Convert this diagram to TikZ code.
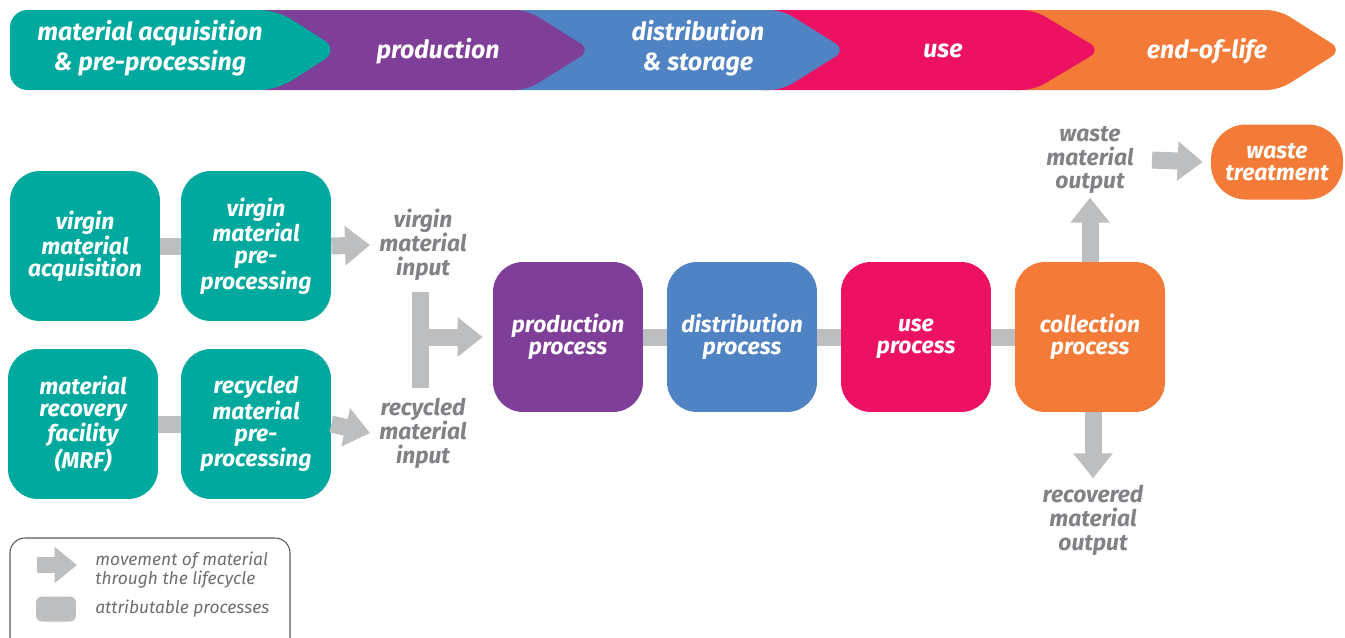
\documentclass[tikz,border=0pt]{standalone}
\usepackage{fontspec}
\setmainfont{Fira Sans}
\usetikzlibrary{arrows.meta, backgrounds, positioning}
\tikzset{>=stealth}

\definecolor{lcteal}{HTML}{00A99D}
\definecolor{lcpurple}{HTML}{7F3F98}
\definecolor{lcblue}{HTML}{4F83C3}
\definecolor{lcpink}{HTML}{ED1164}
\definecolor{lcorange}{HTML}{F47B37}
\definecolor{lcgray}{HTML}{BCBEC0}
\definecolor{lctext}{HTML}{808285}
\definecolor{lckey}{HTML}{6D6E71}
\definecolor{lcframe}{HTML}{58595B}

\tikzset{
  stage/.style={text=white, align=center, inner sep=0, font=\fontsize{14.2}{17}\selectfont\bfseries\itshape},
  proc/.style={rounded corners=0.6cm, minimum width=3cm, minimum height=3cm, align=center, text=white, inner sep=0, font=\fontsize{13}{12.5}\selectfont\bfseries\itshape},
  flowlabel/.style={text=lctext, align=center, inner sep=0, font=\fontsize{13}{13.6}\selectfont\bfseries\itshape},
  bar/.style={lcgray, line width=0.34cm},
  flow/.style={lcgray, line width=0.34cm, -{Triangle[width=0.76cm,length=0.5cm]}},
  keytext/.style={text=lckey, align=left, inner sep=0, anchor=west, font=\fontsize{9.9}{9.6}\selectfont\itshape}
}

\begin{document}
\begin{tikzpicture}[x=0.02cm,y=-0.02cm]
  \useasboundingbox (0,0) rectangle (1345,637);

  % lifecycle stages
  \fill[lcorange, rounded corners=0.25cm] (1000,10) -- (1279,10) -- (1342,50) -- (1279,90) -- (1000,90) -- cycle;
  \fill[lcpink, rounded corners=0.25cm] (750,10) -- (1034,10) -- (1101,50) -- (1034,90) -- (750,90) -- cycle;
  \fill[lcblue, rounded corners=0.25cm] (500,10) -- (782,10) -- (846,50) -- (782,90) -- (500,90) -- cycle;
  \fill[lcpurple, rounded corners=0.25cm] (250,10) -- (527,10) -- (591,50) -- (527,90) -- (250,90) -- cycle;
  \fill[lcteal, rounded corners=0.35cm] (10,10) -- (277,10) -- (339,50) -- (277,90) -- (10,90) -- cycle;

  \node[stage] (acq) at (150,48) {material acquisition\\\& pre-processing};
  \node[stage] (pro) at (438,51) {production};
  \node[stage] (dis) at (698,48) {distribution\\\& storage};
  \node[stage] (use) at (943,51) {use};
  \node[stage] (eol) at (1207,51) {end-of-life};

  % processes
  \node[proc, fill=lcteal] (vacq) at (85,246) {virgin\\material\\acquisition};
  \node[proc, fill=lcteal] (vpre) at (256,246) {virgin\\material\\pre-\\processing};
  \node[proc, fill=lcteal] (mrf) at (83,424) {material\\recovery\\facility\\(MRF)};
  \node[proc, fill=lcteal] (rpre) at (256,424) {recycled\\material\\pre-\\processing};

  \node[proc, fill=lcpurple] (prod) at (568,337) {production\\process};
  \node[proc, fill=lcblue] (dist) at (742,337) {distribution\\process};
  \node[proc, fill=lcpink] (usep) at (916,337) {use\strut\\process};
  \node[proc, fill=lcorange] (coll) at (1090,337) {collection\\process};
  \node[proc, fill=lcorange, minimum width=2.64cm, minimum height=1.5cm, rounded corners=0.7cm] (wtr) at (1277,162) {waste\\treatment};

  % flow labels
  \node[flowlabel] (vin) at (423,245) {virgin\\material\\input};
  \node[flowlabel] (rin) at (423,433) {recycled\\material\\input};
  \node[flowlabel] (wout) at (1090,160) {waste\\material\\output};
  \node[flowlabel] (rout) at (1093,520) {recovered\\material\\output};

  \coordinate (jtop) at (420,292);
  \coordinate (jbot) at (420,388);

  % material flows
  \begin{scope}[on background layer]
    \draw[bar] (vacq) -- (vpre);
    \draw[bar] (mrf) -- (rpre);
    \draw[bar] (prod) -- (dist);
    \draw[bar] (dist) -- (usep);
    \draw[bar] (usep) -- (coll);
  \end{scope}
  \draw[flow] (vpre.east) -- (vin.west -| 370,0);
  \draw[flow] (rpre.east) -- (rin.west -| 370,0);
  \draw[bar] (jtop) -- (jbot);
  \draw[flow] (jtop |- prod.west) -- ([xshift=-0.2cm]prod.west);
  \draw[flow] (coll.north) -- ([yshift=1.28cm]coll.north);
  \draw[flow] (coll.south -| 1093,0) -- ([yshift=-1.32cm]coll.south -| 1093,0);
  \draw[flow] (wout.east -| 1152,0) -- ([xshift=-0.16cm]wtr.west);

  % key
  \draw[lcframe, rounded corners=0.3cm, line width=0.6pt] (10,538) rectangle (290,660);
  \coordinate (kfrom) at (37,565);
  \coordinate (kto) at (77,565);
  \draw[flow, line width=0.32cm, -{Triangle[width=0.7cm,length=0.45cm]}] (kfrom) -- (kto);
  \node[fill=lcgray, rounded corners=0.12cm, minimum width=0.8cm, minimum height=0.5cm, inner sep=0] (kbox) at (56,609) {};
  \node[keytext] (kflow) at (95,570) {movement of material\\through the lifecycle};
  \node[keytext] (kproc) at (95,609) {attributable processes};
\end{tikzpicture}
\end{document}
